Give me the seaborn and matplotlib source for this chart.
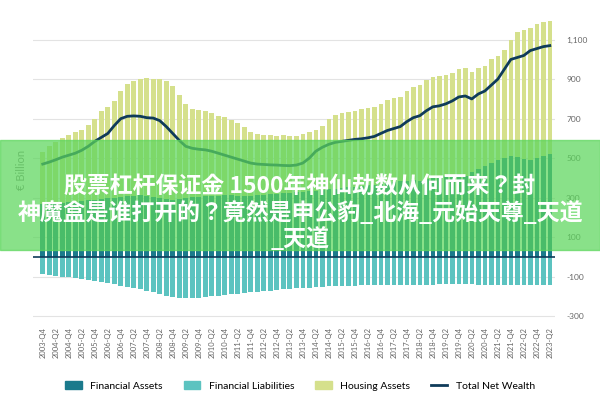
import glob
import numpy as np
import pandas as pd
import seaborn as sns
import matplotlib.pyplot as plt
from matplotlib.patches import Rectangle
from matplotlib import font_manager as fm

plt.rcParams["font.family"] = ["Lato", "DejaVu Sans"]

cjk_files = (sorted(glob.glob("/usr/share/fonts/**/NotoSansCJK-Bold.ttc", recursive=True))
             + sorted(glob.glob("/usr/share/fonts/**/NotoSansCJK*", recursive=True))
             + sorted(glob.glob("/usr/share/fonts/**/NotoSansTC*", recursive=True)))
cjk_prop = fm.FontProperties(fname=cjk_files[0], size=16.5) if cjk_files else fm.FontProperties(size=16.5)

years = list(range(2004, 2023))
quarters = ["2003-Q4"] + [f"{y}-Q{q}" for y in years for q in range(1, 5)] + ["2023-Q1", "2023-Q2"]

# top of stacked bar (financial assets + housing assets)
stack_top = [530, 560, 580, 600, 615,
             630, 645, 670, 700, 740, 760, 790, 840, 875, 890, 900, 905,
             900, 900, 890, 865, 820, 775, 750, 745, 740, 730, 715, 710,
             695, 680, 660, 635, 620, 615, 615, 612, 615, 610, 612, 620,
             630, 645, 665, 700, 720, 730, 735, 740, 750, 755, 760, 775,
             795, 805, 810, 840, 860, 870, 895, 910, 915, 920, 930, 950,
             955, 935, 955, 965, 1000, 1020, 1050, 1100, 1140, 1150, 1160, 1180,
             1190, 1195]
financial_assets = [267, 270, 272, 275, 278,
                    280, 283, 286, 290, 293, 296, 300, 305, 308, 310, 312, 308,
                    305, 300, 295, 290, 292, 298, 302, 305, 308, 310, 310, 312,
                    312, 310, 308, 310, 312, 315, 318, 320, 322, 325, 328, 330,
                    333, 336, 340, 343, 346, 350, 353, 356, 360, 363, 366, 370,
                    374, 378, 382, 386, 390, 385, 395, 400, 405, 410, 415, 420,
                    410, 430, 445, 460, 475, 490, 500, 510, 505, 495, 490, 500,
                    510, 520]
financial_liabilities = [-88, -92, -96, -100, -104,
                         -108, -112, -117, -122, -128, -134, -140, -146, -152, -158, -165, -172,
                         -180, -188, -196, -203, -208, -210, -210, -208, -205, -200, -197, -194,
                         -190, -187, -184, -180, -177, -174, -171, -168, -165, -162, -160, -158,
                         -156, -154, -152, -150, -149, -148, -147, -146, -145, -145, -144, -144,
                         -143, -143, -142, -142, -142, -141, -141, -141, -140, -140, -140, -140,
                         -140, -140, -141, -141, -141, -142, -142, -142, -142, -142, -142, -142,
                         -142, -142]
net_wealth = [470, 480, 492, 505, 515,
              525, 540, 560, 585, 605, 625, 665, 700, 712, 714, 712, 705,
              703, 690, 660, 625, 590, 560, 550, 545, 542, 535, 525, 515,
              505, 495, 485, 475, 470, 468, 466, 465, 463, 462, 465, 475,
              500, 535, 555, 570, 580, 585, 590, 595, 598, 603, 610, 625,
              640, 650, 660, 685, 705, 715, 740, 760, 765, 775, 790, 810,
              815, 800, 825, 840, 870, 900, 950, 1000, 1010, 1020, 1045, 1055,
              1065, 1070]

df = pd.DataFrame({"quarter": quarters, "top": stack_top, "fa": financial_assets,
                   "fl": financial_liabilities, "nw": net_wealth})

c_fa, c_fl, c_ha, c_nw = "#1b7a8c", "#5cc3c0", "#d5e08c", "#0f3b5a"

fig, ax = plt.subplots(figsize=(6, 4), dpi=100)
fig.subplots_adjust(left=0.055, right=0.925, top=0.955, bottom=0.195)

sns.barplot(data=df, x="quarter", y="top", color=c_ha, width=0.7, saturation=1, ax=ax)
sns.barplot(data=df, x="quarter", y="fa", color=c_fa, width=0.7, saturation=1, ax=ax)
sns.barplot(data=df, x="quarter", y="fl", color=c_fl, width=0.7, saturation=1, ax=ax)
ax.axhline(0, color=c_nw, linewidth=1.2, zorder=3)
sns.lineplot(x=np.arange(len(df)), y=df["nw"], color=c_nw, linewidth=2, ax=ax)

ax.set_ylim(-330, 1210)
ax.set_xlim(-1.5, len(df) - 0.2)
ax.set_yticks([-300, -100, 100, 300, 500, 700, 900, 1100])
ax.set_yticklabels(["-300", "-100", "100", "300", "500", "700", "900", "1,100"])
ax.yaxis.tick_right()
ax.tick_params(axis="y", length=0, labelsize=6, labelcolor="#666666", pad=8)
ax.set_xticks(range(0, len(df), 2))
ax.set_xticklabels(quarters[::2], rotation=90, fontsize=5.5, color="#666666")
ax.tick_params(axis="x", length=0)
ax.set_xlabel("")
ax.set_ylabel("€ Billion", color="#888888", fontsize=8)
ax.yaxis.set_label_position("left")
ax.grid(axis="y", color="#e3e3e3", linewidth=0.8)
ax.set_axisbelow(True)
for s in ax.spines.values():
    s.set_visible(False)

handles = [Rectangle((0, 0), 1, 1, color=c_fa), Rectangle((0, 0), 1, 1, color=c_fl),
           Rectangle((0, 0), 1, 1, color=c_ha), plt.Line2D([0], [0], color=c_nw, lw=2)]
fig.legend(handles, ["Financial Assets", "Financial Liabilities", "Housing Assets", "Total Net Wealth"],
           loc="lower center", ncol=4, frameon=False, fontsize=7.5, bbox_to_anchor=(0.5, 0.0),
           handlelength=1.6, handleheight=0.7, columnspacing=2)

# overlay banner
fig.patches.append(Rectangle((0, 0.375), 1, 0.275, transform=fig.transFigure,
                             color="#5cd65c", alpha=0.72, zorder=10))
txt = dict(color="white", ha="center", va="center", fontproperties=cjk_prop, zorder=11)
fig.text(0.5, 0.532, "股票杠杆保证金 1500年神仙劫数从何而来？封", **txt)
fig.text(0.5, 0.467, "神魔盒是谁打开的？竟然是申公豹_北海_元始天尊_天道", **txt)
fig.text(0.5, 0.403, "_天道", **txt)

fig.savefig("out.png")
